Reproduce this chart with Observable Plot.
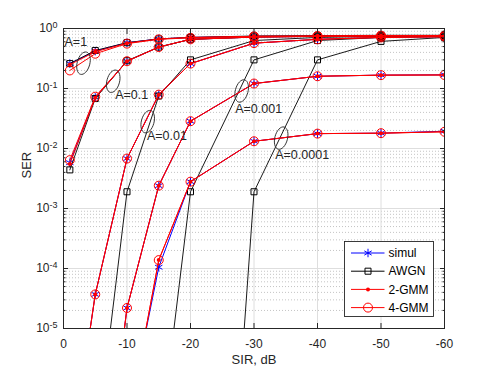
<!DOCTYPE html>
<html>
<head>
<meta charset="utf-8">
<script src="https://cdn.jsdelivr.net/npm/d3@7"></script>
<script src="https://cdn.jsdelivr.net/npm/@observablehq/plot@0.6"></script>
<style>
  html, body { margin: 0; padding: 0; background: #fff; }
  #chart { width: 491px; height: 371px; }
</style>
</head>
<body>
<div id="chart"></div>
<script>
// ---------- data ----------
const sir = [-1, -5, -10, -15, -20, -30, -40, -50, -60];
const ampLabels = ["A=1", "A=0.1", "A=0.01", "A=0.001", "A=0.0001"];

// simulation (blue, asterisk)
const simulA1     = [0.26, 0.42, 0.58, 0.67, 0.71, 0.74, 0.75, 0.76, 0.76];
const simulA01    = [0.0058, 0.071, 0.285, 0.49, 0.66, 0.72, 0.74, 0.75, 0.76];
const simulA001   = [5e-8, 3.7e-5, 0.0068, 0.079, 0.26, 0.57, 0.66, 0.71, 0.73];
const simulA0001  = [null, 1.3e-9, 2.2e-5, 0.0024, 0.0285, 0.121, 0.16, 0.167, 0.169];
const simulA00001 = [null, null, 2.5e-7, 1.05e-4, 0.0028, 0.0132, 0.0177, 0.018, 0.0194];

// AWGN approximation (black, square)
const awgnA1     = [0.26, 0.43, 0.58, 0.67, 0.71, 0.75, 0.76, 0.77, 0.77];
const awgnA01    = [0.0044, 0.068, 0.29, 0.49, 0.66, 0.72, 0.74, 0.75, 0.76];
const awgnA001   = [null, 8e-8, 0.0019, 0.075, 0.30, 0.63, 0.71, 0.74, 0.76];
const awgnA0001  = [null, null, null, 8e-8, 0.0019, 0.30, 0.63, 0.71, 0.74];
const awgnA00001 = [null, null, null, null, 3e-18, 0.0019, 0.30, 0.61, 0.71];

// 2-GMM (red, dot)
const gmm2A1     = [0.25, 0.41, 0.57, 0.67, 0.71, 0.74, 0.75, 0.76, 0.76];
const gmm2A01    = [0.0055, 0.07, 0.285, 0.49, 0.66, 0.72, 0.74, 0.75, 0.76];
const gmm2A001   = [5e-8, 3.7e-5, 0.0068, 0.079, 0.26, 0.57, 0.66, 0.71, 0.73];
const gmm2A0001  = [null, 1.3e-9, 2.2e-5, 0.0024, 0.0285, 0.121, 0.16, 0.167, 0.168];
const gmm2A00001 = [null, null, 2e-7, 1.38e-4, 0.0028, 0.0132, 0.0177, 0.018, 0.019];

// 4-GMM (red, circle)
const gmm4A1     = [0.20, 0.38, 0.56, 0.66, 0.70, 0.74, 0.75, 0.76, 0.76];
const gmm4A01    = [0.0064, 0.073, 0.285, 0.49, 0.66, 0.72, 0.74, 0.75, 0.76];
const gmm4A001   = [5e-8, 3.7e-5, 0.0068, 0.079, 0.26, 0.57, 0.66, 0.71, 0.73];
const gmm4A0001  = [null, 1.3e-9, 2.2e-5, 0.0024, 0.0285, 0.121, 0.16, 0.167, 0.168];
const gmm4A00001 = [null, null, 2e-7, 1.38e-4, 0.0028, 0.0132, 0.0177, 0.018, 0.019];

// annotations
const annoText    = ["A=1", "A=0.1", "A=0.01", "A=0.001", "A=0.0001"];
const annoTextSir = [-0.16, -8.14, -13.13, -27.04, -33.34];
const annoTextSer = [0.598, 0.0773, 0.0162, 0.0447, 0.00773];
const ellipseSir  = [-3.15, -7.83, -13.26, -28.06, -34.28];
const ellipseSer  = [0.264, 0.132, 0.028, 0.091, 0.0149];

// ticks
const xTicks = [0, -10, -20, -30, -40, -50, -60];
const yExponents = [-5, -4, -3, -2, -1, 0];
const legendNames = ["simul", "AWGN", "2-GMM", "4-GMM"];

// ---------- build ----------
function rows(method, series) {
  return series.flatMap((vals, j) =>
    vals.map((v, i) => v == null ? null : {sir: sir[i], ser: v, A: ampLabels[j], method})
        .filter(Boolean));
}
const simul = rows("simul", [simulA1, simulA01, simulA001, simulA0001, simulA00001]);
const awgn  = rows("AWGN",  [awgnA1, awgnA01, awgnA001, awgnA0001, awgnA00001]);
const gmm2  = rows("2-GMM", [gmm2A1, gmm2A01, gmm2A001, gmm2A0001, gmm2A00001]);
const gmm4  = rows("4-GMM", [gmm4A1, gmm4A01, gmm4A001, gmm4A0001, gmm4A00001]);

const yMajor = yExponents.map(e => Math.pow(10, e));
const yMinor = yExponents.slice(0, -1).flatMap(e => d3.range(2, 10).map(m => m * Math.pow(10, e)));

const annoLabels = annoText.map((t, i) => ({t, x: annoTextSir[i], y: annoTextSer[i]}));
const ellipses = ellipseSir.map((x, i) => ({x, y: ellipseSer[i]}));

const ellipseSymbol = {
  draw(ctx, size) {
    const r = Math.sqrt(size / Math.PI);
    const rx = r * 0.55, ry = r, k = 0.5523;
    ctx.moveTo(rx, 0);
    ctx.bezierCurveTo(rx, ry * k, rx * k, ry, 0, ry);
    ctx.bezierCurveTo(-rx * k, ry, -rx, ry * k, -rx, 0);
    ctx.bezierCurveTo(-rx, -ry * k, -rx * k, -ry, 0, -ry);
    ctx.bezierCurveTo(rx * k, -ry, rx, -ry * k, rx, 0);
    ctx.closePath();
  }
};

const AX = "#262626";
const FONT = "'Liberation Sans', Arial, Helvetica, sans-serif";
const common = {x: "sir", y: "ser", z: "A", clip: true};

const chart = Plot.plot({
  width: 491,
  height: 371,
  marginLeft: 63,
  marginRight: 47,
  marginTop: 28,
  marginBottom: 43,
  style: {fontFamily: FONT, fontSize: "12px", color: AX, background: "#fff"},
  x: {domain: [0, -60], label: null},
  y: {type: "log", domain: [1e-5, 1], label: null},
  marks: [
    Plot.gridY(yMinor, {stroke: "#c4c4c4", strokeOpacity: 1, strokeDasharray: "1,2"}),
    Plot.gridY(yMajor, {stroke: "#dedede", strokeOpacity: 1}),
    Plot.gridX(xTicks, {stroke: "#dedede", strokeOpacity: 1}),

    // simul
    Plot.line(simul, {...common, stroke: "#0000ff", strokeWidth: 1}),
    Plot.dot(simul, {...common, symbol: "asterisk", r: 4, stroke: "#0000ff", strokeWidth: 1}),
    // AWGN
    Plot.line(awgn, {...common, stroke: "#000", strokeWidth: 0.9}),
    Plot.dot(awgn, {...common, symbol: "square", r: 3.4, stroke: "#000", fill: "none", strokeWidth: 1}),
    // 2-GMM
    Plot.line(gmm2, {...common, stroke: "#ff0000", strokeWidth: 1}),
    Plot.dot(gmm2, {...common, r: 2, fill: "#ff0000", stroke: "none"}),
    // 4-GMM
    Plot.line(gmm4, {...common, stroke: "#ff0000", strokeWidth: 1}),
    Plot.dot(gmm4, {...common, r: 4.5, stroke: "#ff0000", fill: "none", strokeWidth: 1}),

    // annotations
    Plot.dot(ellipses, {x: "x", y: "y", symbol: ellipseSymbol, r: 11.5, rotate: 15, stroke: "#333", strokeWidth: 0.9, fill: "none"}),
    Plot.text(annoLabels, {x: "x", y: "y", text: "t", textAnchor: "start", fill: AX, fontSize: 12.5}),

    // frame & tick marks (inward)
    Plot.frame({stroke: AX, strokeWidth: 1}),
    Plot.axisX(xTicks, {anchor: "bottom", tickSize: -5, tickFormat: () => "", stroke: AX}),
    Plot.axisX(xTicks, {anchor: "top", tickSize: -5, tickFormat: () => "", stroke: AX}),
    Plot.axisY(yMajor, {anchor: "left", tickSize: -5, tickFormat: () => "", stroke: AX}),
    Plot.axisY(yMajor, {anchor: "right", tickSize: -5, tickFormat: () => "", stroke: AX}),
    Plot.axisY(yMinor, {anchor: "left", tickSize: -2.5, tickFormat: () => "", stroke: AX}),
    Plot.axisY(yMinor, {anchor: "right", tickSize: -2.5, tickFormat: () => "", stroke: AX}),
    // tick labels
    Plot.axisX(xTicks, {anchor: "bottom", tickSize: 0, tickPadding: 11, tickFormat: d => String(d), fontSize: 12}),
    Plot.axisY(yMajor, {anchor: "left", tickSize: 0, tickPadding: 6, tickFormat: d => "e" + Math.round(Math.log10(d)), fontSize: 12}),

    Plot.text(["SIR, dB"], {frameAnchor: "bottom", dy: 35, fontSize: 13, fill: AX}),
    Plot.text(["SER"], {frameAnchor: "left", dx: -37, rotate: -90, fontSize: 13, fill: AX})
  ]
});

document.getElementById("chart").appendChild(chart);

const svg = d3.select(chart);
// remove empty tick-label texts; superscript exponents on y tick labels: 10^k
svg.selectAll("text").each(function() {
  const t = d3.select(this);
  const s = t.text();
  if (s === "" && this.childElementCount === 0) { t.remove(); return; }
  if (/^e-?\d+$/.test(s)) {
    const e = s.slice(1);
    t.text(null);
    t.append("tspan").text("10");
    t.append("tspan").attr("dy", "-0.5em").attr("font-size", "9px").text(e);
  }
});

// legend (inside plot, lower right)
const lg = svg.append("g").attr("transform", "translate(344.5,241.5)")
  .attr("text-anchor", "start")
  .style("font-family", FONT).style("font-size", "12px");
lg.append("rect").attr("width", 89).attr("height", 75)
  .attr("fill", "#fff").attr("stroke", AX).attr("stroke-width", 0.9);
const legendStyles = [
  {color: "#0000ff", sym: d3.symbolAsterisk, size: Math.PI * 16, fill: "none"},
  {color: "#000",    sym: d3.symbolSquare,   size: Math.PI * 3.4 * 3.4, fill: "none"},
  {color: "#ff0000", sym: d3.symbolCircle,   size: Math.PI * 4, fill: "#ff0000"},
  {color: "#ff0000", sym: d3.symbolCircle,   size: Math.PI * 4.5 * 4.5, fill: "none"}
];
legendNames.forEach((name, i) => {
  const s = legendStyles[i];
  const y = 11.5 + i * 18.2;
  const g = lg.append("g").attr("transform", `translate(0,${y})`);
  g.append("line").attr("x1", 6.5).attr("x2", 40).attr("stroke", s.color).attr("stroke-width", 1);
  g.append("path").attr("transform", "translate(23.5,0)")
    .attr("d", d3.symbol(s.sym, s.size)())
    .attr("fill", s.fill).attr("stroke", s.fill === "none" ? s.color : "none").attr("stroke-width", 1);
  g.append("text").attr("x", 44).attr("dy", "0.35em").attr("text-anchor", "start").attr("fill", "#000").text(name);
});
</script>
</body>
</html>
